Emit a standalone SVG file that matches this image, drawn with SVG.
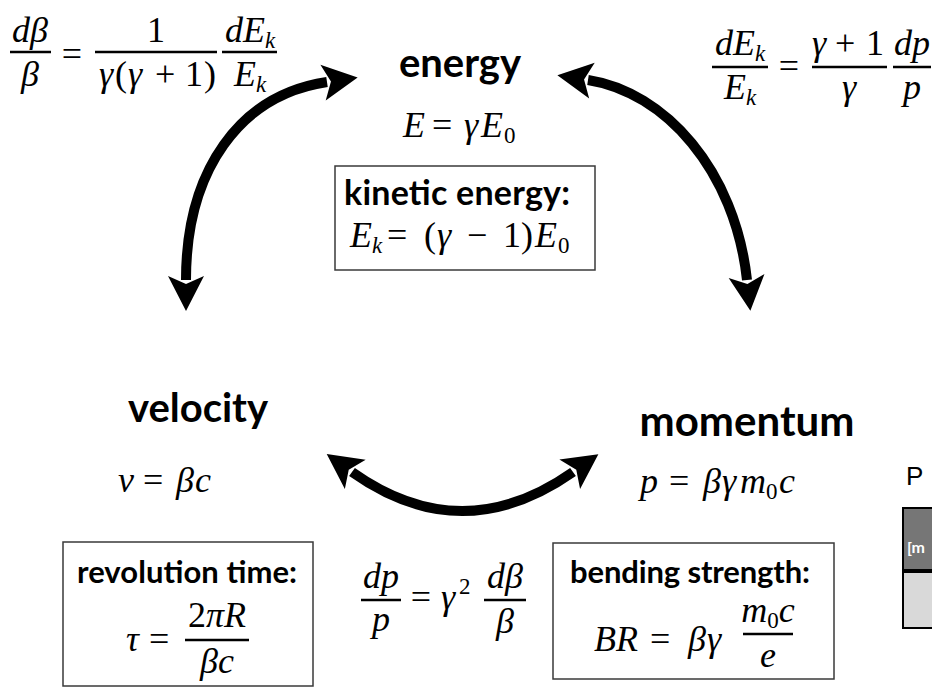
<svg xmlns="http://www.w3.org/2000/svg" width="932" height="687" viewBox="0 0 932 687">
<style>
.lbl{font-family:Lato,"Open Sans","Liberation Sans",sans-serif;font-weight:700;fill:#000}
.m{font-family:"Liberation Serif","DejaVu Serif",serif;font-style:italic;font-size:36px;fill:#000}
.u{font-style:normal}
.s{font-size:23px}
.c{text-anchor:middle}
.bar{stroke:#000;stroke-width:2.5}
.box{fill:#fff;stroke:#3a3a3a;stroke-width:1.5}
.arr{fill:none;stroke:#000;stroke-width:10}
</style>
<defs>
<marker id="ah" markerUnits="userSpaceOnUse" orient="auto-start-reverse" markerWidth="40" markerHeight="40" refX="0" refY="0" overflow="visible">
<path d="M 31 0 L -4 -18 L 4 0 L -4 18 Z" fill="#000"/>
</marker>
</defs>

<g id="connectors">
<path class="arr" d="M 186 280 C 186 170 240 95 327 82" marker-start="url(#ah)" marker-end="url(#ah)"/>
<path class="arr" d="M 588 80 C 665 92 735 170 747 280" marker-start="url(#ah)" marker-end="url(#ah)"/>
<path class="arr" d="M 352 472 Q 462 550 573 472" marker-start="url(#ah)" marker-end="url(#ah)"/>
</g>

<g id="formula-beta-ek">
<text class="m c" x="30" y="42">dβ</text>
<line class="bar" x1="10" y1="52" x2="51" y2="52"/>
<text class="m c" x="30" y="86">β</text>
<text class="m u c" x="72" y="66">=</text>
<text class="m u c" x="156" y="42">1</text>
<line class="bar" x1="95" y1="52" x2="217" y2="52"/>
<text class="m" y="86"><tspan x="99">γ</tspan><tspan class="u" x="115">(</tspan><tspan x="128">γ</tspan><tspan class="u" x="155">+</tspan><tspan class="u" x="185">1</tspan><tspan class="u" x="204">)</tspan></text>
<text class="m c" x="250" y="42">dE<tspan class="s" dy="6">k</tspan></text>
<line class="bar" x1="222" y1="52" x2="277" y2="52"/>
<text class="m c" x="250" y="86">E<tspan class="s" dy="6">k</tspan></text>
</g>

<g id="formula-ek-p">
<text class="m c" x="740" y="55">dE<tspan class="s" dy="6">k</tspan></text>
<line class="bar" x1="712" y1="67" x2="768" y2="67"/>
<text class="m c" x="740" y="99">E<tspan class="s" dy="6">k</tspan></text>
<text class="m u c" x="789" y="78">=</text>
<text class="m" y="55"><tspan x="812">γ</tspan><tspan class="u" x="835">+</tspan><tspan class="u" x="866">1</tspan></text>
<line class="bar" x1="812" y1="67" x2="887" y2="67"/>
<text class="m c" x="849" y="99">γ</text>
<text class="m c" x="912" y="55">dp</text>
<line class="bar" x1="893" y1="67" x2="931" y2="67"/>
<text class="m c" x="912" y="99">p</text>
</g>

<g id="energy">
<text class="lbl c" x="460" y="77" font-size="40">energy</text>
<text class="m" y="137"><tspan x="403">E</tspan><tspan class="u" x="432">=</tspan><tspan x="464">γ</tspan><tspan x="481">E</tspan><tspan class="s u" x="504" y="143">0</tspan></text>
</g>

<g id="kinetic-energy">
<rect class="box" x="335" y="166" width="260" height="104"/>
<text class="lbl" x="344" y="205" font-size="34" textLength="226">kinetic energy:</text>
<text class="m" y="247"><tspan x="350">E</tspan><tspan class="s" x="372" y="253">k</tspan><tspan class="u" x="387" y="247">=</tspan><tspan class="u" x="424">(</tspan><tspan x="437">γ</tspan><tspan class="u" x="467">−</tspan><tspan class="u" x="503">1</tspan><tspan class="u" x="521">)</tspan><tspan x="535">E</tspan><tspan class="s u" x="558" y="253">0</tspan></text>
</g>

<g id="velocity">
<text class="lbl c" x="198" y="422" font-size="40">velocity</text>
<text class="m" y="492"><tspan x="118">v</tspan><tspan class="u" x="143">=</tspan><tspan x="176">β</tspan><tspan x="195">c</tspan></text>
</g>

<g id="momentum">
<text class="lbl c" x="747" y="436" font-size="42" textLength="215">momentum</text>
<text class="m" y="493"><tspan x="640">p</tspan><tspan class="u" x="669">=</tspan><tspan x="703">β</tspan><tspan x="722">γ</tspan><tspan x="740">m</tspan><tspan class="s u" x="766" y="499">0</tspan><tspan x="779" y="493">c</tspan></text>
</g>

<g id="revolution-time">
<rect class="box" x="63" y="542" width="250" height="144"/>
<text class="lbl c" x="187" y="583" font-size="31" textLength="220">revolution time:</text>
<text class="m" y="651"><tspan x="126">τ</tspan><tspan class="u" x="149">=</tspan></text>
<text class="m c" x="217" y="627"><tspan class="u">2</tspan>πR</text>
<line class="bar" x1="185" y1="640" x2="249" y2="640"/>
<text class="m c" x="217" y="673">βc</text>
</g>

<g id="formula-p-beta">
<text class="m c" x="381" y="588">dp</text>
<line class="bar" x1="361" y1="600" x2="401" y2="600"/>
<text class="m c" x="381" y="631">p</text>
<text class="m u c" x="421" y="609">=</text>
<text class="m" y="609"><tspan x="441">γ</tspan><tspan class="s u" x="459" y="594">2</tspan></text>
<text class="m c" x="505" y="588">dβ</text>
<line class="bar" x1="484" y1="600" x2="526" y2="600"/>
<text class="m c" x="505" y="633">β</text>
</g>

<g id="bending-strength">
<rect class="box" x="553" y="543" width="281" height="136"/>
<text class="lbl c" x="690" y="583" font-size="31" textLength="240">bending strength:</text>
<text class="m" y="651"><tspan x="594">B</tspan><tspan x="616">R</tspan><tspan class="u" x="650">=</tspan><tspan x="688">β</tspan><tspan x="707">γ</tspan></text>
<text class="m c" x="768" y="622">m<tspan class="s u" dy="6">0</tspan><tspan dy="-6">c</tspan></text>
<line class="bar" x1="743" y1="634" x2="793" y2="634"/>
<text class="m c" x="768" y="667">e</text>
</g>

<g id="table-partial">
<text x="906" y="485" font-family="'Liberation Sans',Lato,sans-serif" font-size="26" fill="#000">P</text>
<rect x="903" y="508" width="40" height="64" fill="#767676" stroke="#000" stroke-width="2"/>
<rect x="903" y="572" width="40" height="56" fill="#d9d9d9" stroke="#000" stroke-width="2"/>
<line x1="903" y1="571" x2="932" y2="571" stroke="#000" stroke-width="4"/>
<text x="907" y="553" font-family="Lato,'Liberation Sans',sans-serif" font-weight="700" font-size="16" fill="#fff">[m</text>
</g>
</svg>
